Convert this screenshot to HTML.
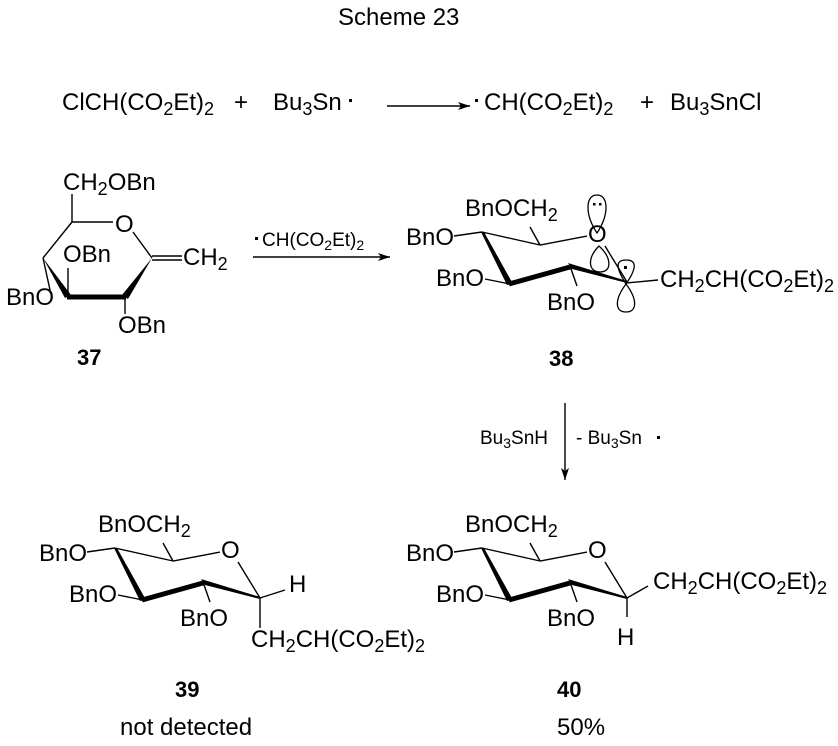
<!DOCTYPE html>
<html><head><meta charset="utf-8"><style>
html,body{margin:0;padding:0;background:#fff;}
svg{display:block;}
text{font-family:"Liberation Sans",Arial,sans-serif;font-size:24px;fill:#000;}
.s{font-size:18px;}
.m{font-size:19px;}
.ms{font-size:14px;}
.b{font-weight:bold;font-size:22px;}
</style></head><body>
<svg width="838" height="746" viewBox="0 0 838 746" xmlns="http://www.w3.org/2000/svg">
<defs>
<marker id="ah" markerWidth="12" markerHeight="8" refX="12" refY="4" orient="auto" markerUnits="userSpaceOnUse">
<path d="M0,0 L12,4 L0,8 L3,4 Z" fill="#000"/></marker>
<g id="ring">
<line x1="87" y1="552" x2="115" y2="548" stroke="#000" stroke-width="1.4"/>
<line x1="115" y1="548" x2="173" y2="561" stroke="#000" stroke-width="1.4"/>
<line x1="163" y1="543" x2="173" y2="561" stroke="#000" stroke-width="1.4"/>
<line x1="173" y1="561" x2="220" y2="552" stroke="#000" stroke-width="1.4"/>
<line x1="238" y1="562" x2="260" y2="598" stroke="#000" stroke-width="1.4"/>
<polygon points="114,548 117,548 146,600 140,601" fill="#000"/>
<line x1="142" y1="600" x2="203" y2="583" stroke="#000" stroke-width="5"/>
<polygon points="201,579 205,585 260,599 260,597" fill="#000"/>
<line x1="118" y1="595" x2="143" y2="600" stroke="#000" stroke-width="1.4"/>
<line x1="203" y1="582" x2="210" y2="602" stroke="#000" stroke-width="1.4"/>
<text x="98" y="532">BnOCH<tspan class="s" dy="5">2</tspan></text>
<text x="39" y="561">BnO</text>
<text x="221" y="558">O</text>
<text x="69" y="602">BnO</text>
<text x="180" y="626">BnO</text>
</g>
</defs>
<text x="338" y="25">Scheme 23</text>

<!-- top line -->
<text x="62" y="110">ClCH(CO<tspan class="s" dy="5">2</tspan><tspan dy="-5">Et)</tspan><tspan class="s" dy="5">2</tspan></text>
<text x="234" y="110">+</text>
<text x="273" y="110">Bu<tspan class="s" dy="5">3</tspan><tspan dy="-5">Sn</tspan></text>
<rect x="349" y="99" width="3" height="3" fill="#000"/>
<line x1="387" y1="106" x2="470" y2="106" stroke="#000" stroke-width="1.4" marker-end="url(#ah)"/>
<rect x="475" y="99" width="3" height="3" fill="#000"/>
<text x="484" y="110">CH(CO<tspan class="s" dy="5">2</tspan><tspan dy="-5">Et)</tspan><tspan class="s" dy="5">2</tspan></text>
<text x="640" y="110">+</text>
<text x="670" y="110">Bu<tspan class="s" dy="5">3</tspan><tspan dy="-5">SnCl</tspan></text>

<!-- 37 -->
<text x="63" y="190">CH<tspan class="s" dy="5">2</tspan><tspan dy="-5">OBn</tspan></text>
<line x1="72" y1="194" x2="72" y2="222" stroke="#000" stroke-width="1.4"/>
<line x1="72" y1="222" x2="113" y2="222" stroke="#000" stroke-width="1.4"/>
<text x="115" y="232">O</text>
<line x1="133" y1="232" x2="152" y2="258" stroke="#000" stroke-width="1.4"/>
<line x1="152" y1="256" x2="182" y2="256" stroke="#000" stroke-width="1.4"/>
<line x1="152" y1="260" x2="182" y2="260" stroke="#000" stroke-width="1.4"/>
<text x="183" y="265">CH<tspan class="s" dy="5">2</tspan></text>
<line x1="72" y1="222" x2="43" y2="258" stroke="#000" stroke-width="1.4"/>
<line x1="43" y1="258" x2="50" y2="290" stroke="#000" stroke-width="1.4"/>
<text x="6" y="305">BnO</text>
<polygon points="43,258 65,298 71,295" fill="#000"/>
<line x1="67" y1="297" x2="126" y2="297" stroke="#000" stroke-width="5"/>
<polygon points="152,258 122,295 128,299" fill="#000"/>
<line x1="68" y1="297" x2="68" y2="268" stroke="#000" stroke-width="1.4"/>
<text x="63" y="262">OBn</text>
<line x1="125" y1="297" x2="125" y2="314" stroke="#000" stroke-width="1.4"/>
<text x="118" y="333">OBn</text>
<text x="77" y="365" class="b">37</text>

<!-- arrow 37->38 -->
<rect x="255" y="237" width="3" height="3" fill="#000"/>
<text x="262" y="246" class="m">CH(CO<tspan class="ms" dy="4">2</tspan><tspan dy="-4">Et)</tspan><tspan class="ms" dy="4">2</tspan></text>
<line x1="253" y1="257" x2="390" y2="257" stroke="#000" stroke-width="1.4" marker-end="url(#ah)"/>

<!-- 38 -->
<g transform="translate(367,-316)"><use href="#ring"/></g>
<path d="M597,233 C585,215 585,195 597,195 C609,195 609,215 597,233 Z" fill="none" stroke="#000" stroke-width="1.3"/>
<rect x="593" y="203" width="2.5" height="2.5" fill="#000"/><rect x="599" y="203" width="2.5" height="2.5" fill="#000"/>
<path d="M599,246 C587,258 588,272 600,272 C612,272 612,258 599,246 Z" fill="none" stroke="#000" stroke-width="1.3"/>
<path d="M626,284 C616,268 615,260 626,260 C637,260 637,268 626,284 Z" fill="none" stroke="#000" stroke-width="1.3"/>
<rect x="624" y="266" width="3" height="3" fill="#000"/>
<path d="M626,284 C614,300 615,312 626,312 C637,312 638,300 626,284 Z" fill="none" stroke="#000" stroke-width="1.3"/>
<line x1="626" y1="283" x2="658" y2="280" stroke="#000" stroke-width="1.4"/>
<text x="660" y="287">CH<tspan class="s" dy="5">2</tspan><tspan dy="-5">CH(CO</tspan><tspan class="s" dy="5">2</tspan><tspan dy="-5">Et)</tspan><tspan class="s" dy="5">2</tspan></text>
<text x="549" y="366" class="b">38</text>

<!-- vertical arrow -->
<line x1="565" y1="403" x2="565" y2="480" stroke="#000" stroke-width="1.4" marker-end="url(#ah)"/>
<text x="480" y="444" class="m">Bu<tspan class="ms" dy="4">3</tspan><tspan dy="-4">SnH</tspan></text>
<text x="576" y="444" class="m">- Bu<tspan class="ms" dy="4">3</tspan><tspan dy="-4">Sn</tspan></text>
<rect x="657" y="436" width="3" height="3" fill="#000"/>

<!-- 39 -->
<use href="#ring"/>
<line x1="260" y1="598" x2="285" y2="590" stroke="#000" stroke-width="1.4"/>
<text x="289" y="592">H</text>
<line x1="260" y1="598" x2="260" y2="628" stroke="#000" stroke-width="1.4"/>
<text x="251" y="647">CH<tspan class="s" dy="5">2</tspan><tspan dy="-5">CH(CO</tspan><tspan class="s" dy="5">2</tspan><tspan dy="-5">Et)</tspan><tspan class="s" dy="5">2</tspan></text>
<text x="175" y="697" class="b">39</text>
<text x="120" y="735">not detected</text>

<!-- 40 -->
<g transform="translate(367,0)"><use href="#ring"/></g>
<line x1="627" y1="598" x2="648" y2="586" stroke="#000" stroke-width="1.4"/>
<text x="653" y="589">CH<tspan class="s" dy="5">2</tspan><tspan dy="-5">CH(CO</tspan><tspan class="s" dy="5">2</tspan><tspan dy="-5">Et)</tspan><tspan class="s" dy="5">2</tspan></text>
<line x1="627" y1="598" x2="627" y2="617" stroke="#000" stroke-width="1.4"/>
<text x="617" y="645">H</text>
<text x="557" y="697" class="b">40</text>
<text x="557" y="735">50%</text>
</svg>
</body></html>
